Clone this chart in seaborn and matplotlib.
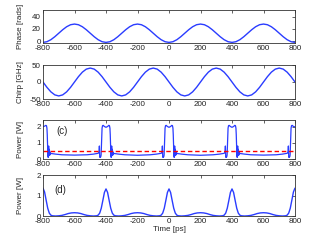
import matplotlib
matplotlib.use("Agg")
import matplotlib.pyplot as plt
import seaborn as sns
import pandas as pd

# ---------------- data ----------------
t_phase = [-800, -775, -750, -725, -700, -675, -650, -625, -600, -575, -550, -525, -500, -475, -450, -425,
           -400, -375, -350, -325, -300, -275, -250, -225, -200, -175, -150, -125, -100, -75, -50, -25,
           0, 25, 50, 75, 100, 125, 150, 175, 200, 225, 250, 275, 300, 325, 350, 375,
           400, 425, 450, 475, 500, 525, 550, 575, 600, 625, 650, 675, 700, 725, 750, 775, 800]
phase = [-2, -0.9, 2.4, 7.3, 13, 18.7, 23.6, 26.9, 28, 26.9, 23.6, 18.7, 13, 7.3, 2.4, -0.9,
         -2, -0.9, 2.4, 7.3, 13, 18.7, 23.6, 26.9, 28, 26.9, 23.6, 18.7, 13, 7.3, 2.4, -0.9,
         -2, -0.9, 2.4, 7.3, 13, 18.7, 23.6, 26.9, 28, 26.9, 23.6, 18.7, 13, 7.3, 2.4, -0.9,
         -2, -0.9, 2.4, 7.3, 13, 18.7, 23.6, 26.9, 28, 26.9, 23.6, 18.7, 13, 7.3, 2.4, -0.9, -2]
chirp = [0, -15.7, -29, -37.9, -41, -37.9, -29, -15.7, 0, 15.7, 29, 37.9, 41, 37.9, 29, 15.7,
         0, -15.7, -29, -37.9, -41, -37.9, -29, -15.7, 0, 15.7, 29, 37.9, 41, 37.9, 29, 15.7,
         0, -15.7, -29, -37.9, -41, -37.9, -29, -15.7, 0, 15.7, 29, 37.9, 41, 37.9, 29, 15.7,
         0, -15.7, -29, -37.9, -41, -37.9, -29, -15.7, 0, 15.7, 29, 37.9, 41, 37.9, 29, 15.7, 0]

t_pc = [-800, -790, -782, -778, -775, -773, -771, -769, -767, -765, -764, -763, -761, -760, -758, -756, -753, -750,
        -720, -680, -600, -520, -480, -450, -447, -444, -442, -440, -439, -437, -436, -435, -433, -431, -429, -427,
        -425, -422, -418, -410,
        -400, -390, -382, -378, -375, -373, -371, -369, -367, -365, -364, -363, -361, -360, -358, -356, -353, -350,
        -320, -280, -200, -120, -80, -50, -47, -44, -42, -40, -39, -37, -36, -35, -33, -31, -29, -27,
        -25, -22, -18, -10,
        0, 10, 18, 22, 25, 27, 29, 31, 33, 35, 36, 37, 39, 40, 42, 44, 47, 50,
        80, 120, 200, 280, 320, 350, 353, 356, 358, 360, 361, 363, 364, 365, 367, 369, 371, 373,
        375, 378, 382, 390,
        400, 410, 418, 422, 425, 427, 429, 431, 433, 435, 436, 437, 439, 440, 442, 444, 447, 450,
        480, 520, 600, 680, 720, 750, 753, 756, 758, 760, 761, 763, 764, 765, 767, 769, 771, 773,
        775, 778, 782, 790, 800]
power_c = [2.0, 2.02, 2.07, 2.05, 1.9, 1.5, 0.8, 0.25, 0.1, 0.5, 0.8, 0.2, 0.6, 0.3, 0.5, 0.25, 0.38, 0.34,
           0.3, 0.26, 0.24, 0.26, 0.3, 0.35, 0.38, 0.45, 0.8, 0.15, 0.1, 0.12, 0.1, 0.12, 0.15, 0.25, 0.8, 1.5,
           1.9, 2.05, 2.07, 2.0,
           1.95, 2.0, 2.07, 2.05, 1.9, 1.5, 0.8, 0.25, 0.1, 0.5, 0.8, 0.2, 0.6, 0.3, 0.5, 0.25, 0.38, 0.34,
           0.3, 0.26, 0.23, 0.26, 0.3, 0.35, 0.38, 0.45, 0.8, 0.15, 0.1, 0.12, 0.1, 0.12, 0.15, 0.25, 0.8, 1.5,
           1.9, 2.05, 2.07, 2.0,
           1.95, 2.0, 2.07, 2.05, 1.9, 1.5, 0.8, 0.25, 0.1, 0.5, 0.8, 0.2, 0.6, 0.3, 0.5, 0.25, 0.38, 0.34,
           0.3, 0.26, 0.23, 0.26, 0.3, 0.35, 0.38, 0.45, 0.8, 0.15, 0.1, 0.12, 0.1, 0.12, 0.15, 0.25, 0.8, 1.5,
           1.9, 2.05, 2.07, 2.0,
           1.95, 2.0, 2.07, 2.05, 1.9, 1.5, 0.8, 0.25, 0.1, 0.5, 0.8, 0.2, 0.6, 0.3, 0.5, 0.25, 0.38, 0.34,
           0.3, 0.26, 0.24, 0.26, 0.3, 0.35, 0.38, 0.45, 0.8, 0.15, 0.1, 0.12, 0.1, 0.12, 0.15, 0.25, 0.8, 1.5,
           1.9, 2.05, 2.07, 2.0, 1.98]
threshold_c = 0.5

t_pd = [-800, -790, -780, -770, -760, -750, -740, -720, -700, -680, -660, -640, -620, -600, -580, -560, -540, -520,
        -500, -480, -460, -450, -440, -430, -420, -410,
        -400, -390, -380, -370, -360, -350, -340, -320, -300, -280, -260, -240, -220, -200, -180, -160, -140, -120,
        -100, -80, -60, -50, -40, -30, -20, -10,
        0, 10, 20, 30, 40, 50, 60, 80, 100, 120, 140, 160, 180, 200, 220, 240, 260, 280,
        300, 320, 340, 350, 360, 370, 380, 390,
        400, 410, 420, 430, 440, 450, 460, 480, 500, 520, 540, 560, 580, 600, 620, 640, 660, 680,
        700, 720, 740, 750, 760, 770, 780, 790, 800]
power_d = [1.36, 1.17, 0.77, 0.38, 0.14, 0.04, 0.01, 0.0, 0.01, 0.03, 0.07, 0.12, 0.15, 0.16, 0.15, 0.12, 0.07, 0.03,
           0.01, 0.0, 0.01, 0.04, 0.14, 0.38, 0.76, 1.15,
           1.32, 1.15, 0.76, 0.38, 0.14, 0.04, 0.01, 0.0, 0.01, 0.03, 0.07, 0.12, 0.15, 0.16, 0.15, 0.12, 0.07, 0.03,
           0.01, 0.0, 0.01, 0.04, 0.14, 0.38, 0.76, 1.15,
           1.32, 1.15, 0.76, 0.38, 0.14, 0.04, 0.01, 0.0, 0.01, 0.03, 0.07, 0.12, 0.15, 0.16, 0.15, 0.12, 0.07, 0.03,
           0.01, 0.0, 0.01, 0.04, 0.14, 0.38, 0.76, 1.15,
           1.32, 1.15, 0.76, 0.38, 0.14, 0.04, 0.01, 0.0, 0.01, 0.03, 0.07, 0.12, 0.15, 0.16, 0.15, 0.12, 0.07, 0.03,
           0.01, 0.0, 0.01, 0.04, 0.14, 0.38, 0.77, 1.17, 1.36]

x_ticks = [-800, -600, -400, -200, 0, 200, 400, 600, 800]

# ---------------- style ----------------
sns.set_theme(style="white")
plt.rcParams["font.family"] = ["Liberation Sans", "DejaVu Sans"]
plt.rcParams["axes.unicode_minus"] = False

BLUE = "#2a3cff"
FS = 5.8

fig = plt.figure(figsize=(3.27, 2.45), dpi=100)
W, H = 327.0, 245.0
left, right = 43, 295
boxes = [(10, 43), (65, 99), (120, 159), (175, 216)]
axes = [fig.add_axes([left / W, 1 - b / H, (right - left) / W, (b - t) / H]) for t, b in boxes]

def style(ax, ylim, yticks):
    ax.set_xlim(-800, 800)
    ax.set_ylim(*ylim)
    ax.set_xticks(x_ticks)
    ax.set_yticks(yticks)
    ax.tick_params(direction="in", top=True, right=True, length=2.5, width=0.5,
                   labelsize=FS, pad=1.5, colors="#222222")
    for s in ax.spines.values():
        s.set_linewidth(0.6)
        s.set_color("#333333")
    ax.set_xlabel("")

ax1, ax2, ax3, ax4 = axes
df1 = pd.DataFrame({"t": t_phase, "phase": phase, "chirp": chirp})
sns.lineplot(data=df1, x="t", y="phase", ax=ax1, color=BLUE, lw=1.0, estimator=None)
style(ax1, (-3, 51), [0, 20, 40])
ax1.set_ylabel("Phase [rads]", fontsize=FS)

sns.lineplot(data=df1, x="t", y="chirp", ax=ax2, color=BLUE, lw=1.0, estimator=None)
style(ax2, (-50, 50), [-50, 0, 50])
ax2.set_ylabel("Chirp [GHz]", fontsize=FS)

df3 = pd.DataFrame({"t": t_pc, "p": power_c})
sns.lineplot(data=df3, x="t", y="p", ax=ax3, color=BLUE, lw=0.9, estimator=None, sort=False)
ax3.axhline(threshold_c, color="red", lw=1.0, ls=(0, (3.2, 2)))
style(ax3, (0, 2.4), [0, 1, 2])
ax3.set_ylabel("Power [W]", fontsize=FS)
ax3.text(-680, 1.7, "(c)", fontsize=7, ha="center", va="center")

df4 = pd.DataFrame({"t": t_pd, "p": power_d})
sns.lineplot(data=df4, x="t", y="p", ax=ax4, color=BLUE, lw=1.0, estimator=None, sort=False)
style(ax4, (0, 2), [0, 1, 2])
ax4.set_ylabel("Power [W]", fontsize=FS)
ax4.set_xlabel("Time [ps]", fontsize=FS)
ax4.text(-690, 1.27, "(d)", fontsize=7, ha="center", va="center")

for ax in axes:
    ax.yaxis.set_label_coords(-0.075, 0.5)
ax4.xaxis.set_label_coords(0.5, -0.24)

fig.savefig("out.png", dpi=100)
